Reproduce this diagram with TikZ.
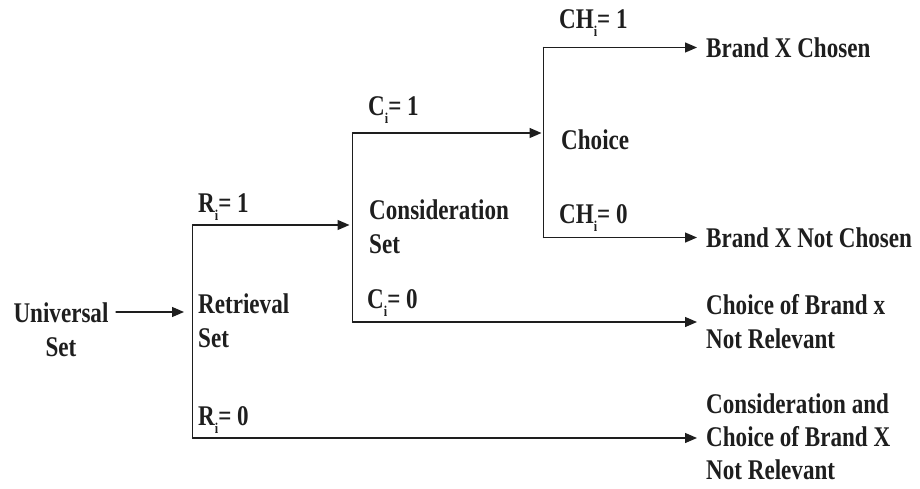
\documentclass[tikz,border=0pt]{standalone}
\usepackage{fontspec}
\setmainfont{Liberation Serif}[FakeStretch=0.81]
\usepackage{tikz}
\usetikzlibrary{arrows.meta}
\usetikzlibrary{calc}

\definecolor{ink}{HTML}{1E1E1E}
\newcommand{\sbi}{\raisebox{-8pt}{\fontsize{15}{15}\selectfont i}}

\begin{document}
\begin{tikzpicture}[x=1pt,y=1pt,line cap=round,line join=round,
  every node/.style={text=ink,font=\fontsize{28.5}{34}\selectfont\bfseries},
  lbl/.style={inner sep=0pt,anchor=base west,align=left},
  outtxt/.style={anchor=west,align=left,inner xsep=9pt,inner ysep=0pt},
  arr/.style={draw=ink,line width=1.3pt,-{Triangle[length=12pt,width=10pt]}},
  spine/.style={draw=ink,line width=1.3pt}]
\useasboundingbox (0,0) rectangle (920,488);
% branch points
\coordinate (uout) at (116,176);
\coordinate (rin) at (184,176);
\coordinate (rtop) at (192.5,263);
\coordinate (rbot) at (192.5,50);
\coordinate (ctop) at (352.5,355);
\coordinate (cbot) at (352.5,166);
\coordinate (htop) at (543.5,440.5);
\coordinate (hbot) at (543.5,250.5);
% texts (base = last line)
\node [inner sep=0pt,anchor=base,align=center] (univ) at (61,132) {Universal\\Set};
\node [lbl] (retr) at (198,141) {Retrieval\\Set};
\node [lbl] (cons) at (369,235) {Consideration\\Set};
\node [lbl] (choice) at (561,338) {Choice};
\node [lbl] (rone) at (198,276) {R\sbi= 1};
\node [lbl] (rzero) at (198,63) {R\sbi= 0};
\node [lbl] (cone) at (368,372) {C\sbi= 1};
\node [lbl] (czero) at (367,180) {C\sbi= 0};
\node [lbl] (hone) at (559,459) {CH\sbi= 1};
\node [lbl] (hzero) at (559,265) {CH\sbi= 0};
\node [outtxt] (out1) at (697,440.5) {Brand X Chosen};
\node [outtxt] (out2) at (697,250.5) {Brand X Not Chosen};
\node [outtxt] (out3) at (697,166) {Choice of Brand x\\Not Relevant};
\node [outtxt,font=\fontsize{28.5}{33}\selectfont\bfseries] (out4) at (697,51) {Consideration and\\Choice of Brand X\\Not Relevant};
% tree
\draw [arr] (uout) -- (rin);
\draw [spine] (rtop) -- (rbot);
\draw [spine] (ctop) -- (cbot);
\draw [spine] (htop) -- (hbot);
\draw [arr,shorten >=3pt] (rtop) -- (rtop -| cbot);
\draw [arr] (rbot) -- (rbot -| out4.west);
\draw [arr,shorten >=2pt] (ctop) -- (ctop -| htop);
\draw [arr] (cbot) -- (cbot -| out3.west);
\draw [arr] (htop) -- (out1.west);
\draw [arr] (hbot) -- (out2.west);
\end{tikzpicture}
\end{document}
